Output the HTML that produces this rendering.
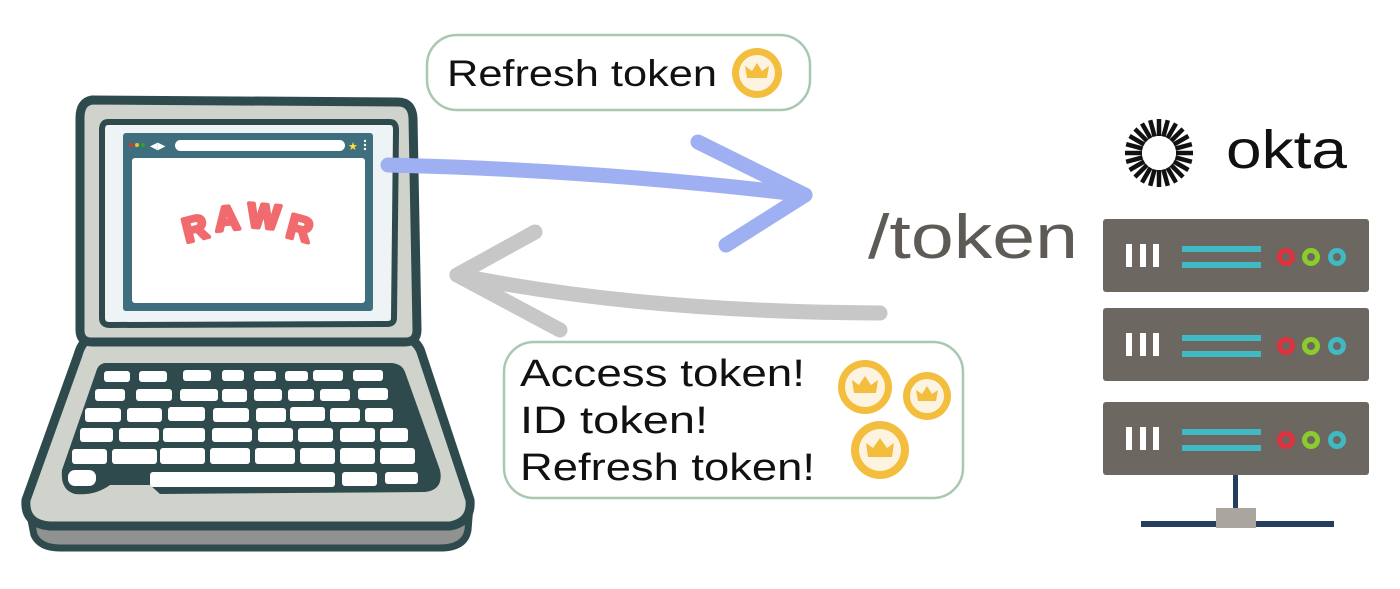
<!DOCTYPE html>
<html><head><meta charset="utf-8"><style>
html,body{margin:0;padding:0;background:#fff;}
svg{display:block;}
text{font-family:"Liberation Sans","DejaVu Sans",sans-serif;}
</style></head><body>
<svg width="1400" height="589" viewBox="0 0 1400 589" xmlns="http://www.w3.org/2000/svg">
<!-- Laptop base -->
<path d="M28 505 L34 535 Q40 548 60 548 L440 548 Q465 548 468 530 L470 505 Z" fill="#8f9290" stroke="#2f4a4d" stroke-width="7"/>
<path d="M92 338 L405 338 Q418 340 422 355 L470 500 Q472 522 450 526 L50 526 Q24 524 26 500 L78 355 Q82 340 92 338 Z" fill="#cfd3cb" stroke="#2f4a4d" stroke-width="9" stroke-linejoin="round"/>
<path d="M105 363 L392 363 Q402 364 405 372 L440 470 Q444 490 425 492 L160 494 L150 485 L110 485 Q95 496 75 494 Q60 490 62 470 L96 372 Q98 364 105 363 Z" fill="#2f4a4d"/>
<g fill="#fff">
<rect x="104" y="371" width="26" height="11" rx="3"/><rect x="139" y="371" width="28" height="11" rx="3"/><rect x="183" y="370" width="28" height="11" rx="3"/><rect x="222" y="370" width="22" height="11" rx="3"/><rect x="254" y="371" width="22" height="10" rx="3"/><rect x="285" y="371" width="23" height="10" rx="3"/><rect x="313" y="370" width="30" height="11" rx="3"/><rect x="353" y="370" width="30" height="11" rx="3"/>
<rect x="95" y="389" width="30" height="12" rx="3"/><rect x="136" y="389" width="36" height="12" rx="3"/><rect x="180" y="389" width="38" height="12" rx="3"/><rect x="222" y="389" width="25" height="13" rx="3"/><rect x="254" y="389" width="28" height="12" rx="3"/><rect x="288" y="389" width="26" height="12" rx="3"/><rect x="320" y="389" width="30" height="12" rx="3"/><rect x="358" y="388" width="30" height="12" rx="3"/>
<rect x="85" y="408" width="36" height="14" rx="3"/><rect x="127" y="408" width="35" height="14" rx="3"/><rect x="168" y="407" width="37" height="14" rx="3"/><rect x="213" y="408" width="36" height="14" rx="3"/><rect x="256" y="408" width="30" height="14" rx="3"/><rect x="290" y="407" width="35" height="14" rx="3"/><rect x="330" y="408" width="30" height="14" rx="3"/><rect x="365" y="408" width="28" height="14" rx="3"/>
<rect x="80" y="428" width="33" height="14" rx="3"/><rect x="119" y="428" width="40" height="14" rx="3"/><rect x="163" y="428" width="42" height="14" rx="3"/><rect x="212" y="428" width="40" height="14" rx="3"/><rect x="258" y="428" width="35" height="14" rx="3"/><rect x="298" y="428" width="35" height="14" rx="3"/><rect x="340" y="428" width="35" height="14" rx="3"/><rect x="380" y="428" width="28" height="14" rx="3"/>
<rect x="72" y="449" width="35" height="15" rx="3"/><rect x="112" y="449" width="45" height="15" rx="3"/><rect x="160" y="448" width="45" height="16" rx="3"/><rect x="210" y="448" width="40" height="16" rx="3"/><rect x="255" y="448" width="40" height="16" rx="3"/><rect x="300" y="448" width="35" height="16" rx="3"/><rect x="340" y="448" width="35" height="16" rx="3"/><rect x="380" y="448" width="35" height="16" rx="3"/>
<rect x="68" y="470" width="28" height="16" rx="7"/><rect x="150" y="472" width="185" height="15" rx="3"/><rect x="342" y="472" width="35" height="14" rx="3"/><rect x="385" y="472" width="33" height="12" rx="3"/>
</g>
<!-- Lid -->
<path d="M92 100 Q80 102 80 118 L80 330 Q80 342 92 342 L405 342 Q417 342 417 330 L413 118 Q412 102 398 102 Z" fill="#cfd3cb" stroke="#2f4a4d" stroke-width="9" stroke-linejoin="round"/>
<path d="M108 122 L390 122 Q396 122 396 130 L394 318 Q394 324 387 324 L110 325 Q102 325 102 318 L102 130 Q102 122 108 122 Z" fill="#eef4f6" stroke="#2f4a4d" stroke-width="6"/>
<rect x="123" y="133" width="250" height="178" rx="3" fill="#3f6f7f"/>
<rect x="132" y="158" width="233" height="145" rx="3" fill="#fff"/>
<rect x="175" y="140" width="170" height="11" rx="5.5" fill="#fff"/>
<circle cx="131" cy="145" r="2" fill="#d33"/><circle cx="137" cy="145" r="2" fill="#e9c41a"/><circle cx="143" cy="145" r="2" fill="#2a2"/>
<text x="150" y="149" font-size="10" fill="#fff">◀▶</text>
<text x="348" y="150" font-size="11" fill="#ffe13a">★</text>
<circle cx="365" cy="141" r="1.2" fill="#fff"/><circle cx="365" cy="145" r="1.2" fill="#fff"/><circle cx="365" cy="149" r="1.2" fill="#fff"/>
<g font-size="34" font-weight="bold" fill="#f06a6e" text-anchor="middle" stroke="#f06a6e" stroke-width="4" stroke-linejoin="round">
<text x="195" y="240" transform="rotate(-14 195 228)">R</text>
<text x="227" y="230" transform="rotate(-6 227 218)">A</text>
<text x="264" y="228" transform="rotate(5 264 215)">W</text>
<text x="300" y="240" transform="rotate(15 300 228)">R</text>
</g>
<!-- Arrows -->
<path d="M388 165 Q600 170 805 195" fill="none" stroke="#9fb0f2" stroke-width="15" stroke-linecap="round"/>
<path d="M698 142 L805 195 L726 245" fill="none" stroke="#9fb0f2" stroke-width="15" stroke-linecap="round" stroke-linejoin="round"/>
<path d="M880 313 Q640 312 457 275" fill="none" stroke="#c6c7c6" stroke-width="15" stroke-linecap="round"/>
<path d="M535 232 L457 275 L560 330" fill="none" stroke="#c6c7c6" stroke-width="15" stroke-linecap="round" stroke-linejoin="round"/>
<!-- Bubbles -->
<rect x="427" y="35" width="383" height="75" rx="30" fill="#fff" stroke="#a9c8b1" stroke-width="2.5"/>
<text x="447" y="86" font-size="37" fill="#111" textLength="270" lengthAdjust="spacingAndGlyphs">Refresh token</text>
<rect x="504" y="342" width="459" height="156" rx="30" fill="#fff" stroke="#a9c8b1" stroke-width="2.5"/>
<text x="520" y="386" font-size="38" fill="#111" textLength="285" lengthAdjust="spacingAndGlyphs">Access token!</text>
<text x="520" y="433" font-size="38" fill="#111" textLength="188" lengthAdjust="spacingAndGlyphs">ID token!</text>
<text x="520" y="480" font-size="38" fill="#111" textLength="295" lengthAdjust="spacingAndGlyphs">Refresh token!</text>
<g>
<circle cx="757" cy="73" r="25" fill="#f3bd3d"/><circle cx="757" cy="73" r="18" fill="#fdf3e1"/><path d="M747 78 L745 66 L752 71 L757 63 L762 71 L769 66 L767 78 Z" fill="#f3bd3d"/>
<circle cx="865" cy="387" r="27" fill="#f3bd3d"/><circle cx="865" cy="387" r="20" fill="#fdf3e1"/><path d="M854 393 L852 380 L859 385 L865 376 L871 385 L878 380 L876 393 Z" fill="#f3bd3d"/>
<circle cx="927" cy="396" r="24" fill="#f3bd3d"/><circle cx="927" cy="396" r="17" fill="#fdf3e1"/><path d="M918 401 L916 390 L922 394 L927 386 L932 394 L938 390 L936 401 Z" fill="#f3bd3d"/>
<circle cx="880" cy="450" r="29" fill="#f3bd3d"/><circle cx="880" cy="450" r="21" fill="#fdf3e1"/><path d="M868 457 L866 443 L873 448 L880 438 L887 448 L894 443 L892 457 Z" fill="#f3bd3d"/>
</g>
<text x="868" y="258" font-size="62" fill="#5e5a55" textLength="210" lengthAdjust="spacingAndGlyphs">/token</text>
<!-- okta logo -->
<g stroke="#111" stroke-width="4.5" stroke-linecap="butt">
<g id="ray"><line x1="1159" y1="136" x2="1159" y2="119"/></g>
<use href="#ray" transform="rotate(15 1159 153)"/><use href="#ray" transform="rotate(30 1159 153)"/><use href="#ray" transform="rotate(45 1159 153)"/><use href="#ray" transform="rotate(60 1159 153)"/><use href="#ray" transform="rotate(75 1159 153)"/><use href="#ray" transform="rotate(90 1159 153)"/><use href="#ray" transform="rotate(105 1159 153)"/><use href="#ray" transform="rotate(120 1159 153)"/><use href="#ray" transform="rotate(135 1159 153)"/><use href="#ray" transform="rotate(150 1159 153)"/><use href="#ray" transform="rotate(165 1159 153)"/><use href="#ray" transform="rotate(180 1159 153)"/><use href="#ray" transform="rotate(195 1159 153)"/><use href="#ray" transform="rotate(210 1159 153)"/><use href="#ray" transform="rotate(225 1159 153)"/><use href="#ray" transform="rotate(240 1159 153)"/><use href="#ray" transform="rotate(255 1159 153)"/><use href="#ray" transform="rotate(270 1159 153)"/><use href="#ray" transform="rotate(285 1159 153)"/><use href="#ray" transform="rotate(300 1159 153)"/><use href="#ray" transform="rotate(315 1159 153)"/><use href="#ray" transform="rotate(330 1159 153)"/><use href="#ray" transform="rotate(345 1159 153)"/>
</g>
<text x="1226" y="168" font-size="54" fill="#111" textLength="121" lengthAdjust="spacingAndGlyphs">okta</text>
<!-- servers -->
<g id="srv">
<rect x="1103" y="219" width="266" height="73" rx="3" fill="#6c6760"/>
<rect x="1126" y="244" width="6" height="23" fill="#fff"/><rect x="1140" y="244" width="6" height="23" fill="#fff"/><rect x="1153" y="244" width="6" height="23" fill="#fff"/>
<rect x="1182" y="246" width="79" height="6" fill="#3fbac4"/><rect x="1182" y="262" width="79" height="6" fill="#3fbac4"/>
<circle cx="1286" cy="257" r="6.5" fill="none" stroke="#e0313f" stroke-width="5"/>
<circle cx="1311" cy="257" r="6.5" fill="none" stroke="#8ccb2c" stroke-width="5"/>
<circle cx="1337" cy="257" r="6.5" fill="none" stroke="#3fbac4" stroke-width="5"/>
</g>
<use href="#srv" transform="translate(0 89)"/>
<use href="#srv" transform="translate(0 183)"/>
<rect x="1233" y="475" width="5" height="35" fill="#263e5e"/>
<rect x="1141" y="521" width="193" height="6" fill="#263e5e"/>
<rect x="1216" y="508" width="40" height="20" fill="#aaa69f"/>
</svg>
</body></html>
